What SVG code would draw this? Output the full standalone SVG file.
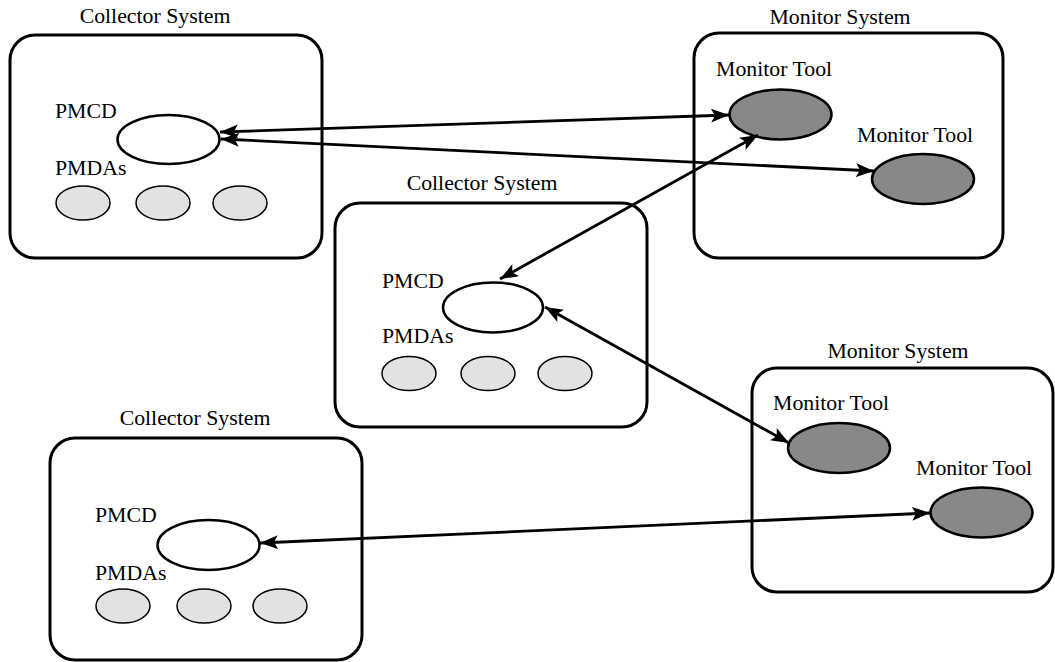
<svg xmlns="http://www.w3.org/2000/svg" width="1055" height="662" viewBox="0 0 1055 662">
<style>
text{font-family:"Liberation Serif","Times New Roman",serif;font-size:21.8px;fill:#000}
.title{text-anchor:middle}
.box{fill:#fff;stroke:#000;stroke-width:3}
.pmcd{fill:#fff;stroke:#000;stroke-width:2.5}
.pmda{fill:#e2e2e2;stroke:#000;stroke-width:1.5}
.tool{fill:#888;stroke:#000;stroke-width:2.5}
.conn{stroke:#000;stroke-width:2.8;fill:none;marker-start:url(#ah);marker-end:url(#ah)}
</style>
<defs>
<marker id="ah" markerUnits="userSpaceOnUse" markerWidth="19" markerHeight="14" refX="18" refY="7" orient="auto-start-reverse" viewBox="0 0 19 14">
<path d="M0,0 L18,7 L0,14 L4,7 z" fill="#000"/>
</marker>
</defs>
<rect width="1055" height="662" fill="#fff"/>
<g id="collector1">
<text class="title" x="155" y="23">Collector System</text>
<rect class="box" x="10" y="35" width="312" height="223" rx="25"/>
<text x="55" y="118">PMCD</text>
<ellipse class="pmcd" cx="168.5" cy="139.5" rx="51" ry="24.5"/>
<text x="55" y="175">PMDAs</text>
<ellipse class="pmda" cx="83" cy="203" rx="27" ry="17"/>
<ellipse class="pmda" cx="163" cy="203" rx="27" ry="17"/>
<ellipse class="pmda" cx="240" cy="203" rx="27" ry="17"/>
</g>
<g id="monitor1">
<text class="title" x="840" y="24">Monitor System</text>
<rect class="box" x="694" y="33" width="309" height="225" rx="25"/>
<text x="716" y="76">Monitor Tool</text>
<ellipse class="tool" cx="780.5" cy="114.5" rx="51" ry="25"/>
<text x="857" y="142">Monitor Tool</text>
<ellipse class="tool" cx="923" cy="179" rx="51" ry="25"/>
</g>
<g id="collector2">
<text class="title" x="482" y="190">Collector System</text>
<rect class="box" x="335" y="203" width="312" height="224" rx="25"/>
<text x="382" y="288">PMCD</text>
<ellipse class="pmcd" cx="493" cy="307.5" rx="50" ry="25"/>
<text x="382" y="343">PMDAs</text>
<ellipse class="pmda" cx="409" cy="373.5" rx="27" ry="17"/>
<ellipse class="pmda" cx="488" cy="373.5" rx="27" ry="17"/>
<ellipse class="pmda" cx="565" cy="373.5" rx="27" ry="17"/>
</g>
<g id="monitor2">
<text class="title" x="898" y="358">Monitor System</text>
<rect class="box" x="752" y="368" width="301" height="224" rx="25"/>
<text x="773" y="410">Monitor Tool</text>
<ellipse class="tool" cx="839" cy="448" rx="51" ry="25"/>
<text x="916" y="475">Monitor Tool</text>
<ellipse class="tool" cx="981.5" cy="512.5" rx="51" ry="25"/>
</g>
<g id="collector3">
<text class="title" x="195" y="425">Collector System</text>
<rect class="box" x="50" y="438" width="312" height="222" rx="25"/>
<text x="95" y="522">PMCD</text>
<ellipse class="pmcd" cx="208.5" cy="545" rx="51" ry="25"/>
<text x="95" y="580">PMDAs</text>
<ellipse class="pmda" cx="123" cy="606" rx="27" ry="17"/>
<ellipse class="pmda" cx="204" cy="606" rx="27" ry="17"/>
<ellipse class="pmda" cx="280" cy="606" rx="27" ry="17"/>
</g>
<g id="connectors">
<line class="conn" x1="220" y1="132" x2="729" y2="115"/>
<line class="conn" x1="221" y1="139" x2="874" y2="171"/>
<line class="conn" x1="758" y1="135" x2="500" y2="279"/>
<line class="conn" x1="545" y1="307" x2="789" y2="443"/>
<line class="conn" x1="260" y1="543" x2="930" y2="513"/>
</g>
</svg>
